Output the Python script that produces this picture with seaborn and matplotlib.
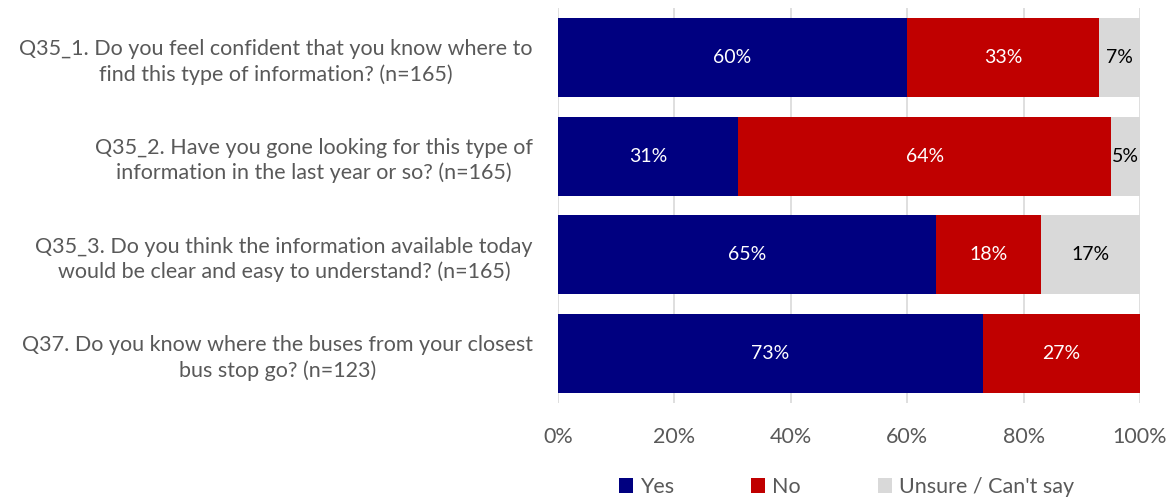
import matplotlib
matplotlib.use("Agg")
import matplotlib.pyplot as plt
from matplotlib.patches import Patch
import numpy as np
import pandas as pd
import seaborn as sns

questions = [
    "Q35_1. Do you feel confident that you know where to\nfind this type of information? (n=165)",
    "Q35_2. Have you gone looking for this type of\ninformation in the last year or so? (n=165)",
    "Q35_3. Do you think the information available today\nwould be clear and easy to understand? (n=165)",
    "Q37. Do you know where the buses from your closest\nbus stop go? (n=123)",
]
yes = [60, 31, 65, 73]
no = [33, 64, 18, 27]
unsure = [7, 5, 17, 0]
series_names = ["Yes", "No", "Unsure / Can't say"]
colors = ["#000080", "#C00000", "#D9D9D9"]
label_colors = ["white", "white", "black"]
tick_values = [0, 20, 40, 60, 80, 100]

sns.set_theme(style="white")
plt.rcParams["font.family"] = ["Lato", "DejaVu Sans"]
text_grey = "#595959"

df = pd.DataFrame({"question": questions, "Yes": yes, "No": no, "Unsure": unsure})
df["cum_no"] = df["Yes"] + df["No"]
df["cum_all"] = df["cum_no"] + df["Unsure"]

fig = plt.figure(figsize=(11.72, 4.99), dpi=100)
ax = fig.add_axes([0.4761, 0.1924, 0.4966, 0.7916])

# stacked bars drawn back to front from cumulative totals
for col, color in zip(["cum_all", "cum_no", "Yes"], colors[::-1]):
    sns.barplot(data=df, x=col, y="question", color=color, width=0.8,
                saturation=1, ax=ax, zorder=2, linewidth=0)

ax.set_xlim(0, 100)
ax.set_xticks(tick_values)
ax.set_xticklabels([f"{v}%" for v in tick_values], fontsize=15.5, color=text_grey)
ax.tick_params(axis="x", pad=17, length=0)
ax.tick_params(axis="y", pad=18, length=0)
ax.set_yticks(range(len(questions)))
ax.set_yticklabels(questions, fontsize=15.5, color=text_grey, ha="right",
                   multialignment="center", linespacing=1.3)
ax.set_xlabel("")
ax.set_ylabel("")
ax.xaxis.grid(True, color="#D9D9D9", linewidth=1.2, zorder=0)
ax.set_axisbelow(True)
for s in ax.spines.values():
    s.set_visible(False)

# segment value labels
for i in range(len(questions)):
    starts = [0, yes[i], yes[i] + no[i]]
    vals = [yes[i], no[i], unsure[i]]
    for start, val, tc in zip(starts, vals, label_colors):
        if val > 0:
            ax.text(start + val / 2, i, f"{val}%", ha="center", va="center",
                    fontsize=14, color=tc, zorder=3)

handles = [Patch(facecolor=c, edgecolor="none") for c in colors]
fig.legend(handles, series_names, loc="center", bbox_to_anchor=(0.7223, 0.024),
           ncol=3, frameon=False, fontsize=15.5, handlelength=0.65,
           handleheight=0.65, handletextpad=0.3, columnspacing=3.6,
           labelcolor=text_grey, borderpad=0)

fig.savefig("out.png", dpi=100)
